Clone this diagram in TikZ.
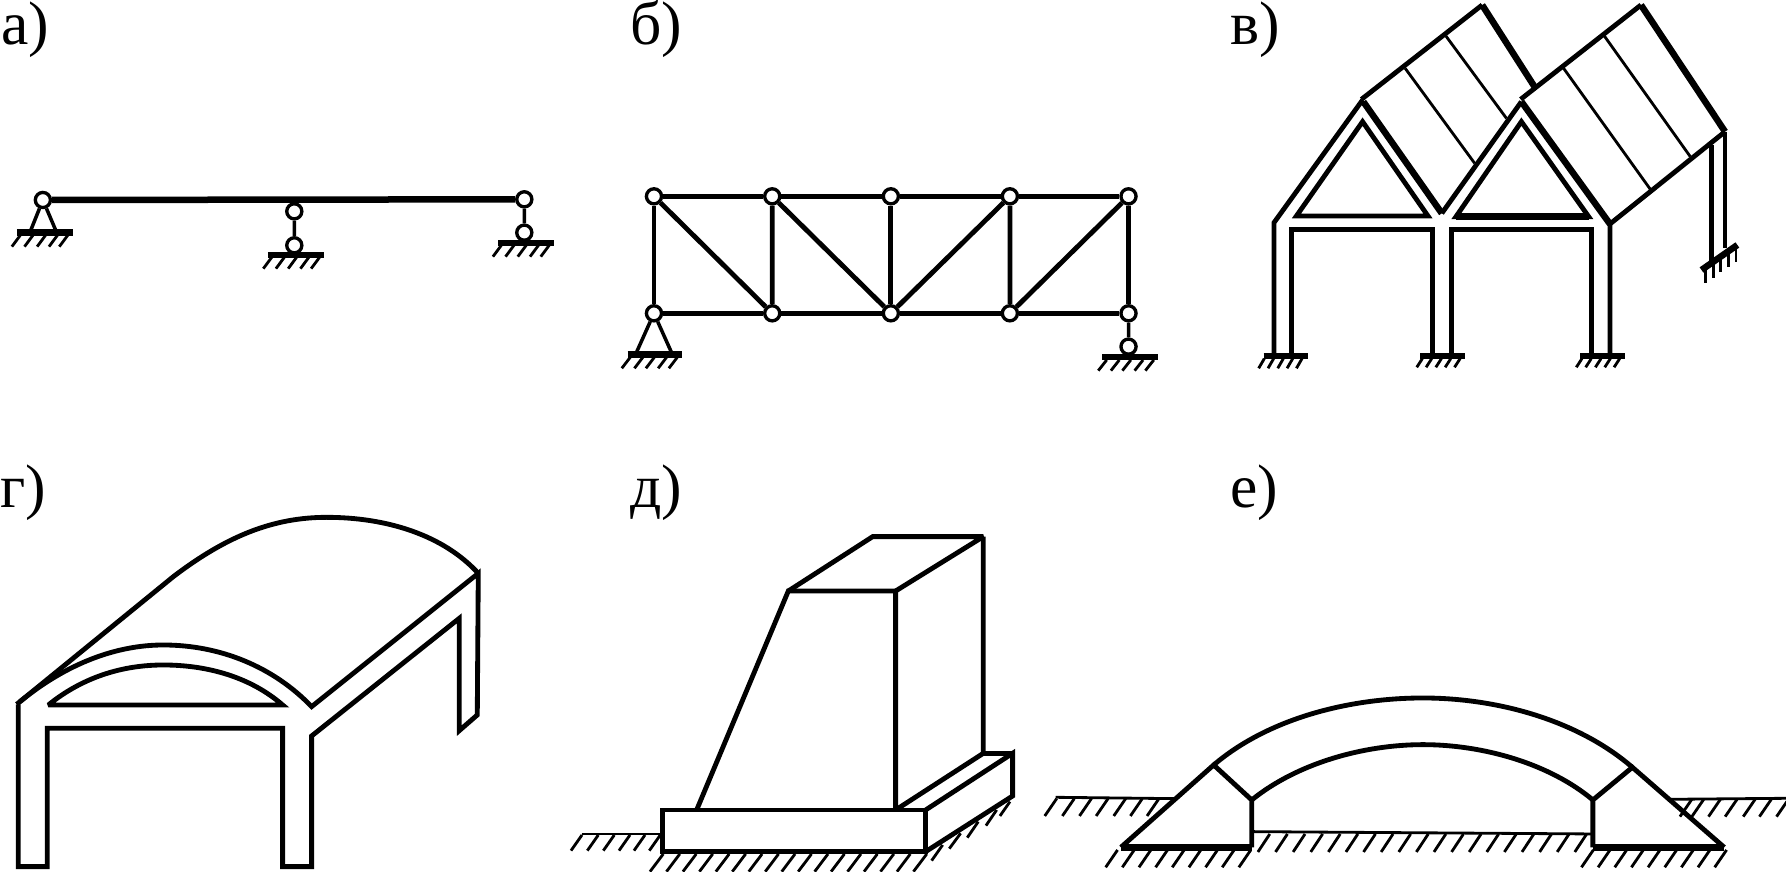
\documentclass[tikz,border=0pt]{standalone}
\usepackage{fontspec}
\setmainfont{Liberation Serif}
\newcommand{\hatches}[4]{% bottom x list, bottom y, top y, dx
  \foreach \hx in {#1} \draw[hatchline] ({\hx},#2) -- ({\hx+#4},#3);}
\tikzset{
  main/.style={line width=2.75pt,line join=miter,miter limit=3},
  heavy/.style={line width=3.7pt,line join=miter,miter limit=3},
  plate/.style={line width=3.7pt},
  fine/.style={line width=1.6pt},
  hatchline/.style={line width=1.6pt},
  link/.style={line width=2pt},
  pin/.style={circle,draw,fill=white,line width=1.9pt,minimum size=8.6pt,inner sep=0pt},
  lab/.style={anchor=base west,inner sep=0pt,font=\fontsize{35}{35}\selectfont},
}
\begin{document}
\begin{tikzpicture}[x=0.02cm,y=-0.02cm]
\useasboundingbox (0,0) rectangle (1786,872);
\fill[white] (0,0) rectangle (1786,872);
% labels
\node[lab] (la) at (1,44) {а)};
\node[lab] (lb) at (630,44) {б)};
\node[lab] (lc) at (1230,44) {в)};
\node[lab] (ld) at (0,507) {г)};
\node[lab] (le) at (630,507) {д)};
\node[lab] (lf) at (1230,507) {е)};
% a
\begin{scope}[xscale=0.3827,yscale=0.3333]
  \node[pin] (a1) at (112,600) {};
  \node[pin] (a2) at (1370,598) {};
  \node[pin] (a3) at (769,634) {};
  \node[pin] (a4) at (769,736) {};
  \node[pin] (a5) at (1370,698) {};
  \draw[line width=3.7pt] (a1) -- (a2);
  \draw[link] (a3) -- (a4);
  \draw[link] (a2) -- (a5);
  \coordinate (a6) at (80,692); \coordinate (a7) at (146,692);
  \draw[link] (a6) -- (a1) -- (a7);
  \draw[plate] (44,698) -- (190,698);
  \draw[plate] (700,765) -- (846,765);
  \draw[plate] (1302,729) -- (1447,729);
  \hatches{31,64,97,128,155}{740}{706}{22}
  \hatches{688,721,753,785,813}{806}{772}{22}
  \hatches{1288,1321,1353,1385,1413}{770}{736}{22}
\end{scope}
% b
\begin{scope}[shift={(600,0)},xscale=0.3827,yscale=0.3333]
  \node[pin] (t1) at (141,589) {};
  \node[pin] (t2) at (450,589) {};
  \node[pin] (t3) at (760,589) {};
  \node[pin] (t4) at (1071,589) {};
  \node[pin] (t5) at (1381,589) {};
  \node[pin] (b1) at (141,940) {};
  \node[pin] (b2) at (450,940) {};
  \node[pin] (b3) at (760,940) {};
  \node[pin] (b4) at (1071,940) {};
  \node[pin] (b5) at (1381,940) {};
  \node[pin] (s1) at (1381,1040) {};
  \draw[main] (t1) -- (t2); \draw[main] (t2) -- (t3); \draw[main] (t3) -- (t4); \draw[main] (t4) -- (t5);
  \draw[main] (b1) -- (b2); \draw[main] (b2) -- (b3); \draw[main] (b3) -- (b4); \draw[main] (b4) -- (b5);
  \draw[main] (t1) -- (b1); \draw[main] (t2) -- (b2); \draw[main] (t3) -- (b3); \draw[main] (t4) -- (b4); \draw[main] (t5) -- (b5);
  \draw[main] (t1) -- (b2); \draw[main] (t2) -- (b3); \draw[main] (t4) -- (b3); \draw[main] (t5) -- (b4);
  \draw[link] (b5) -- (s1);
  \coordinate (s2) at (95,1058); \coordinate (s3) at (187,1058);
  \draw[link] (s2) -- (b1) -- (s3);
  \draw[plate] (72,1064) -- (213,1064);
  \draw[plate] (1312,1071) -- (1457,1071);
  \hatches{57,90,120,152,180}{1105}{1072}{22}
  \hatches{1302,1335,1365,1397,1425}{1112}{1080}{22}
\end{scope}
% v
\begin{scope}[shift={(1200,0)},xscale=0.3737,yscale=0.3333]
  \draw[main] (198,1060) -- (198,668) -- (435,300);
  \draw[main] (432,298) -- (755,15);
  \draw[heavy] (755,15) -- (895,260);
  \draw[main] (858,298) -- (1180,15);
  \draw[heavy] (1180,15) -- (1405,395);
  \draw[main] (1405,395) -- (1097,672) -- (1097,1060);
  \draw[heavy] (1097,672) -- (860,305);
  \draw[main] (860,305) -- (647,640);
  \draw[heavy] (647,640) -- (437,305);
  \draw[fine] (549,205) -- (735,490);
  \draw[fine] (658,108) -- (820,355);
  \draw[fine] (973,205) -- (1205,568);
  \draw[fine] (1082,108) -- (1312,470);
  \draw[main] (435,365) -- (258,648) -- (610,648) -- cycle;
  \draw[main] (860,365) -- (685,650) -- (1040,650) -- cycle;
  \draw[heavy] (685,650) -- (1040,650);
  \draw[main] (245,1060) -- (245,688) -- (622,688) -- (622,1060);
  \draw[main] (672,1060) -- (672,688) -- (1048,688) -- (1048,1060);
  \draw[main] (1405,395) -- (1405,745);
  \draw[main] (1368,435) -- (1368,790);
  \draw[plate] (1342,810) -- (1438,735);
  \foreach \hx/\hy in {1353/808,1373/793,1393/777,1414/760,1434/745}
    \draw[hatchline] (\hx,\hy) -- ({\hx},{\hy+40});
  \draw[plate] (170,1068) -- (288,1068);
  \draw[plate] (590,1068) -- (708,1068);
  \draw[plate] (1018,1068) -- (1136,1068);
  \hatches{157,182,208,233,258}{1105}{1076}{15}
  \hatches{580,605,631,656,681}{1102}{1076}{15}
  \hatches{1007,1032,1058,1083,1108}{1102}{1076}{15}
\end{scope}
% g
\begin{scope}[shift={(0,460)},xscale=0.3333,yscale=0.3333]
  \draw[main] (50,733) -- (520,350) .. controls (680,228) and (820,172) .. (980,172)
     .. controls (1160,172) and (1330,225) .. (1435,340);
  \draw[main] (60,725) .. controls (200,610) and (350,555) .. (490,555)
     .. controls (660,555) and (820,620) .. (935,740) -- (1435,340)
     -- (1432,765) -- (1378,812) -- (1378,475) -- (935,828) -- (935,1220)
     -- (848,1220) -- (848,805) -- (142,805) -- (142,1220) -- (55,1220) -- (55,733);
  \draw[main] (145,735) .. controls (250,650) and (370,615) .. (490,615)
     .. controls (620,615) and (750,650) .. (848,735) -- cycle;
\end{scope}
% d
\begin{scope}[shift={(560,460)},xscale=0.3333,yscale=0.3333]
  \draw[main] (308,1050) rectangle (1097,1175);
  \draw[main] (1097,1050) -- (1358,880) -- (1358,1008) -- (1097,1175);
  \draw[main] (1265,880) -- (1358,880);
  \draw[main] (410,1050) -- (685,393) -- (1007,393) -- (1007,1050);
  \draw[main] (685,393) -- (938,230) -- (1270,230) -- (1007,393);
  \draw[main] (1270,230) -- (1270,880) -- (1007,1050);
  \draw[fine] (65,1122) -- (305,1122);
  \hatches{33,82,130,177,222,268}{1172}{1125}{33}
  \foreach \nk in {0,...,16} \draw[hatchline] ({270+49.4*\nk},1235) -- ({310+49.4*\nk},1182);
  \draw[hatchline] (1115,1202) -- (1148,1155);
  \draw[hatchline] (1168,1166) -- (1202,1120);
  \draw[hatchline] (1222,1133) -- (1255,1085);
  \draw[hatchline] (1278,1097) -- (1310,1050);
  \draw[hatchline] (1320,1068) -- (1350,1025);
\end{scope}
% e
\begin{scope}[shift={(1040,460)},xscale=0.4758,yscale=0.3333]
  \draw[main] (365,915) .. controls (480,775) and (650,714) .. (805,714)
     .. controls (960,714) and (1130,780) .. (1245,922);
  \draw[main] (445,1020) .. controls (540,910) and (680,854) .. (805,854)
     .. controls (930,854) and (1070,910) .. (1162,1020);
  \draw[main] (445,1162) -- (445,1020) -- (365,915) -- (170,1162);
  \draw[heavy] (170,1162) -- (445,1162);
  \draw[main] (1162,1162) -- (1162,1020) -- (1245,922) -- (1438,1162);
  \draw[heavy] (1162,1162) -- (1438,1162);
  \draw[fine] (33,1012) -- (283,1016);
  \draw[fine] (1325,1018) -- (1568,1015);
  \draw[fine] (445,1115) -- (1162,1122);
  \hatches{10,47,83,118,155,190,225}{1068}{1016}{25}
  \hatches{1345,1370,1405,1440,1478,1512,1548}{1070}{1018}{25}
  \foreach \nk in {0,...,18} \draw[hatchline] ({458+37*\nk},1176) -- ({483+37*\nk},1122);
  \hatches{138,173,208,243,278,313,348,383,418}{1222}{1170}{25}
  \hatches{1138,1173,1208,1243,1278,1313,1348,1383,1418}{1222}{1170}{25}
\end{scope}
\end{tikzpicture}
\end{document}
